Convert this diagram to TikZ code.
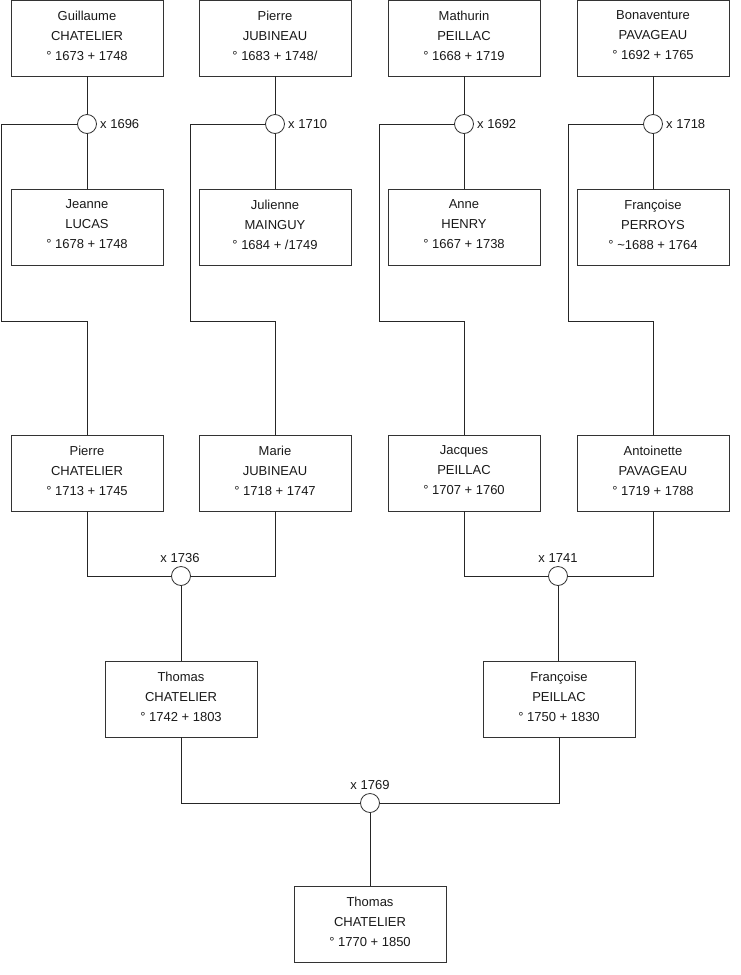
\documentclass[tikz,border=0pt]{standalone}
\usepackage{fontspec}
\setmainfont{Liberation Sans}
\begin{document}
\begin{tikzpicture}[x=1pt,y=-1pt,
  person/.style={draw=black!80,line width=0.8pt,minimum width=152pt,minimum height=76pt,inner sep=0pt,
    align=center,font=\fontsize{13}{20}\selectfont,text=black!90,text depth=5pt},
  union/.style={draw=black!80,circle,line width=0.8pt,minimum size=19pt,inner sep=0pt,fill=white},
  lab/.style={font=\fontsize{13}{15}\selectfont,text=black!90,inner sep=0pt},
  link/.style={draw=black!85,line width=0.8pt}]
\useasboundingbox (0,0) rectangle (740,975);
% row 1
\node[person] (g1a) at (87,38) {Guillaume\\CHATELIER\\° 1673 + 1748};
\node[person] (g1b) at (275,38) {Pierre\\JUBINEAU\\° 1683 + 1748/};
\node[person] (g1c) at (464,38) {Mathurin\\PEILLAC\\° 1668 + 1719};
\node[person] (g1d) at (653,38) {Bonaventure\\PAVAGEAU\\° 1692 + 1765};
% unions
\node[union] (u1a) at (87,124) {};
\node[union] (u1b) at (275,124) {};
\node[union] (u1c) at (464,124) {};
\node[union] (u1d) at (653,124) {};
\node[lab,anchor=west] (l1a) at (100,124) {x 1696};
\node[lab,anchor=west] (l1b) at (288,124) {x 1710};
\node[lab,anchor=west] (l1c) at (477,124) {x 1692};
\node[lab,anchor=west] (l1d) at (666,124) {x 1718};
% row 2
\node[person] (g2a) at (87,227) {Jeanne\\LUCAS\\° 1678 + 1748};
\node[person] (g2b) at (275,227) {Julienne\\MAINGUY\\° 1684 + /1749};
\node[person] (g2c) at (464,227) {Anne\\HENRY\\° 1667 + 1738};
\node[person] (g2d) at (653,227) {Françoise\\PERROYS\\° \char"7E 1688 + 1764};
% row 3
\node[person] (g3a) at (87,473) {Pierre\\CHATELIER\\° 1713 + 1745};
\node[person] (g3b) at (275,473) {Marie\\JUBINEAU\\° 1718 + 1747};
\node[person] (g3c) at (464,473) {Jacques\\PEILLAC\\° 1707 + 1760};
\node[person] (g3d) at (653,473) {Antoinette\\PAVAGEAU\\° 1719 + 1788};
% unions row 3
\node[union] (u3a) at (181,576) {};
\node[union] (u3b) at (558,576) {};
\node[lab] (l3a) at (180,558) {x 1736};
\node[lab] (l3b) at (558,558) {x 1741};
% row 4
\node[person] (g4a) at (181,699) {Thomas\\CHATELIER\\° 1742 + 1803};
\node[person] (g4b) at (559,699) {Françoise\\PEILLAC\\° 1750 + 1830};
\node[union] (u4) at (370,803) {};
\node[lab] (l4) at (370,785) {x 1769};
% row 5
\node[person] (g5) at (370,924) {Thomas\\CHATELIER\\° 1770 + 1850};
% connectors top
\foreach \u/\a/\b in {u1a/g1a/g2a,u1b/g1b/g2b,u1c/g1c/g2c,u1d/g1d/g2d}{
  \draw[link] (\a.south) -- (\u.north);
  \draw[link] (\u.south) -- (\b.north);
}
\coordinate (ca) at (1,124);
\coordinate (cb) at (190,124);
\coordinate (cc) at (379,124);
\coordinate (cd) at (568,124);
\draw[link] (u1a.west) -- (ca) -- (1,321) -| (g3a.north);
\draw[link] (u1b.west) -- (cb) -- (190,321) -| (g3b.north);
\draw[link] (u1c.west) -- (cc) -- (379,321) -| (g3c.north);
\draw[link] (u1d.west) -- (cd) -- (568,321) -| (g3d.north);
% row 3 to unions
\draw[link] (g3a.south) |- (u3a.west);
\draw[link] (g3b.south) |- (u3a.east);
\draw[link] (g3c.south) |- (u3b.west);
\draw[link] (g3d.south) |- (u3b.east);
\draw[link] (u3a.south) -- (g4a.north);
\draw[link] (u3b.south) -- (u3b.south |- g4b.north);
% row 4
\draw[link] (g4a.south) |- (u4.west);
\draw[link] (g4b.south) |- (u4.east);
\draw[link] (u4.south) -- (g5.north);
\end{tikzpicture}
\end{document}
